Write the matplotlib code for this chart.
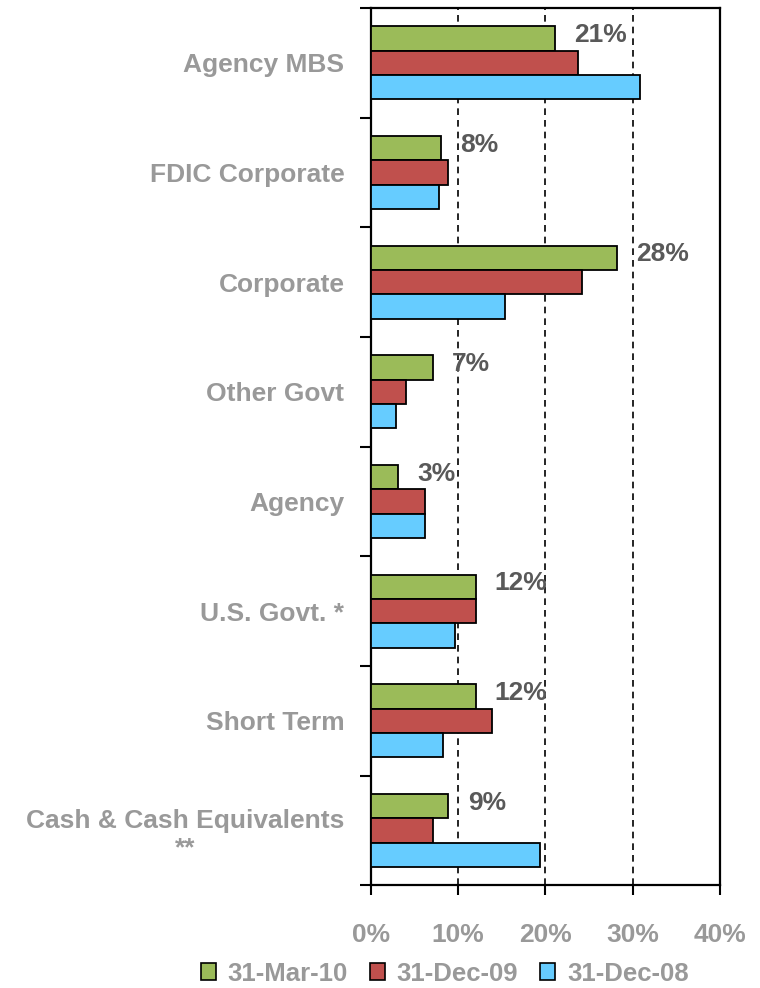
import matplotlib
import matplotlib.pyplot as plt
import numpy as np
from matplotlib.patches import Patch
from matplotlib.ticker import FixedLocator, FuncFormatter

matplotlib.rcParams["font.family"] = ["Liberation Sans", "DejaVu Sans"]
matplotlib.rcParams["font.weight"] = "bold"
plt.switch_backend("agg")

# categories top -> bottom
CATEGORIES = [
    "Agency MBS",
    "FDIC Corporate",
    "Corporate",
    "Other Govt",
    "Agency",
    "U.S. Govt. *",
    "Short Term",
    "Cash & Cash Equivalents\n**",
]
MAR_10 = [21.1, 8.0, 28.2, 7.1, 3.1, 12.0, 12.0, 8.9]
DEC_09 = [23.8, 8.9, 24.2, 4.0, 6.2, 12.0, 13.9, 7.1]
DEC_08 = [30.9, 7.8, 15.4, 2.9, 6.2, 9.7, 8.3, 19.4]
VALUE_LABELS = ["21%", "8%", "28%", "7%", "3%", "12%", "12%", "9%"]
SERIES_NAMES = ["31-Mar-10", "31-Dec-09", "31-Dec-08"]
X_TICKS = [0, 10, 20, 30, 40]

COLORS = ["#9BBB59", "#C0504D", "#66CCFF"]
GRAY = "#999999"
DARK = "#595959"
FS = 19


def main():
    fig = plt.figure(figsize=(7.6, 9.88), dpi=100)
    ax = fig.add_axes([0.488, 0.104, 0.459, 0.888])

    n = len(CATEGORIES)
    centers = np.arange(n)[::-1] + 0.5  # top group highest
    h = 0.222
    for series, off, color in zip([MAR_10, DEC_09, DEC_08], [h, 0.0, -h], COLORS):
        ax.barh(centers + off, series, height=h, color=color,
                edgecolor="black", linewidth=1.3, zorder=3)

    for c, v, lab in zip(centers, MAR_10, VALUE_LABELS):
        ax.text(v + 2.2, c + h + 0.03, lab, ha="left", va="center",
                fontsize=FS, fontweight="bold", color=DARK, zorder=4)

    ax.set_xlim(0, 40)
    ax.set_ylim(0, n)

    for x in X_TICKS[1:-1]:
        ax.axvline(x, color="black", linestyle=(0, (4, 3)), linewidth=1.2, zorder=1)

    ax.set_xticks(X_TICKS)
    ax.xaxis.set_major_formatter(FuncFormatter(lambda v, p: f"{v:.0f}%"))
    ax.tick_params(axis="x", direction="out", length=7, width=1.5,
                   pad=20, labelsize=FS, labelcolor=GRAY)

    ax.yaxis.set_major_locator(FixedLocator(np.arange(n + 1)))
    ax.yaxis.set_minor_locator(FixedLocator(centers))
    ax.set_yticklabels([], minor=False)
    ax.set_yticklabels(CATEGORIES, minor=True, multialignment="center")
    ax.tick_params(axis="y", which="major", direction="out", length=8, width=1.5)
    ax.tick_params(axis="y", which="minor", length=0, pad=19,
                   labelsize=FS, labelcolor=GRAY)

    for sp in ax.spines.values():
        sp.set_linewidth(1.6)

    handles = [Patch(facecolor=c, edgecolor="black", linewidth=1.2) for c in COLORS]
    leg = fig.legend(handles, SERIES_NAMES, loc="lower center",
                     bbox_to_anchor=(0.585, -0.008), borderaxespad=0,
                     ncol=3, frameon=False,
                     fontsize=18.5, handlelength=0.6, handleheight=0.6,
                     handletextpad=0.45, columnspacing=0.85)
    for t in leg.get_texts():
        t.set_color(GRAY)

    fig.savefig("out.png", dpi=100, facecolor="white")
    plt.close(fig)


if __name__ == "__main__":
    main()
